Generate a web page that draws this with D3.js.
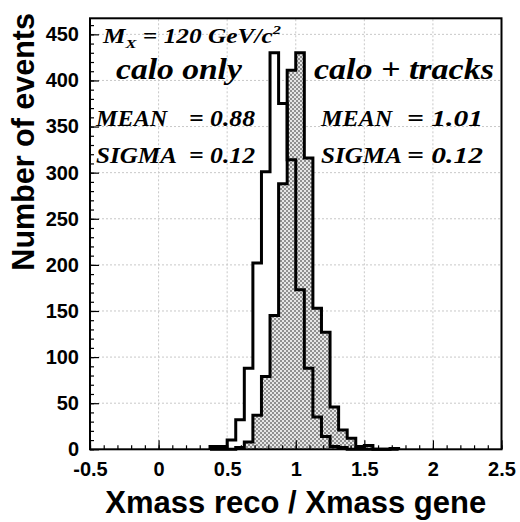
<!DOCTYPE html>
<html><head><meta charset="utf-8">
<script src="https://cdn.jsdelivr.net/npm/d3@7"></script>
<style>html,body{margin:0;padding:0;background:#fff;} svg{display:block}</style>
</head><body><svg id="c" width="520" height="522"></svg>
<script>
// ---- data ----
const binWidth = 0.0625;
const binLow = [0.375, 0.4375, 0.5, 0.5625, 0.625, 0.6875, 0.75, 0.8125, 0.875, 0.9375, 1.0, 1.0625,
                1.125, 1.1875, 1.25, 1.3125, 1.375, 1.4375, 1.5, 1.5625, 1.625, 1.6875];
const caloOnly   = [3, 3, 10, 32, 88, 202, 301, 430, 375, 314, 173, 88, 35, 14, 3, 2, 0, 0, 0, 0, 0, 0];
const caloTracks = [0, 0, 0, 2, 8, 37, 79, 145, 288, 411, 430, 316, 153, 127, 46, 21, 12, 3, 4, 0, 0, 1];
const xTicks = [-0.5, 0, 0.5, 1, 1.5, 2, 2.5];
const xTickLabels = ["-0.5", "0", "0.5", "1", "1.5", "2", "2.5"];
const yTicks = [0, 50, 100, 150, 200, 250, 300, 350, 400, 450];
const yTickLabels = ["0", "50", "100", "150", "200", "250", "300", "350", "400", "450"];
const xGrid = [0, 0.5, 1, 1.5, 2];
const yGrid = [50, 100, 150, 200, 250, 300, 350, 400, 450];
const xTitle = "Xmass reco / Xmass gene";
const yTitle = "Number of events";
const statsLeft = {mean: "0.88", sigma: "0.12"};
const statsRight = {mean: "1.01", sigma: "0.12"};

// ---- drawing ----
const svg = d3.select("#c");
const x = d3.scaleLinear().domain([-0.5, 2.5]).range([90, 501.5]);
const y = d3.scaleLinear().domain([0, 467.4]).range([449.3, 18.3]);
const sans = "'Liberation Sans', Arial, Helvetica, sans-serif";
const serif = "'Liberation Serif', 'Times New Roman', serif";

const defs = svg.append("defs");
const pat = defs.append("pattern").attr("id", "hatch").attr("width", 4).attr("height", 4)
  .attr("patternUnits", "userSpaceOnUse");
pat.append("rect").attr("width", 4).attr("height", 4).attr("fill", "#e6e6e6");
pat.append("rect").attr("x", 0).attr("y", 0).attr("width", 2).attr("height", 2).attr("fill", "#909090");
pat.append("rect").attr("x", 2).attr("y", 2).attr("width", 2).attr("height", 2).attr("fill", "#909090");

// grid
svg.append("g").selectAll("line").data(yGrid).join("line")
  .attr("x1", x(-0.5)).attr("x2", x(2.5)).attr("y1", d => y(d)).attr("y2", d => y(d))
  .attr("stroke", "#c8c8c8").attr("stroke-width", 1).attr("stroke-dasharray", "2,2");
svg.append("g").selectAll("line").data(xGrid).join("line")
  .attr("y1", y(0)).attr("y2", y(467.4)).attr("x1", d => x(d)).attr("x2", d => x(d))
  .attr("stroke", "#c8c8c8").attr("stroke-width", 1).attr("stroke-dasharray", "2,2");

function pts(counts) {
  const p = [[binLow[0], 0]];
  counts.forEach((c, i) => p.push([binLow[i], c]));
  p.push([binLow[binLow.length - 1] + binWidth, 0]);
  return p;
}
const line = d3.line().x(d => x(d[0])).y(d => y(d[1])).curve(d3.curveStepAfter);
const area = d3.area().x(d => x(d[0])).y0(y(0)).y1(d => y(d[1])).curve(d3.curveStepAfter);

svg.append("path").attr("d", area(pts(caloOnly))).attr("fill", "#fff");
svg.append("path").attr("d", area(pts(caloTracks))).attr("fill", "url(#hatch)");
svg.append("path").attr("d", line(pts(caloTracks))).attr("fill", "none").attr("stroke", "#000")
  .attr("stroke-width", 3).attr("stroke-linejoin", "miter");
svg.append("path").attr("d", line(pts(caloOnly))).attr("fill", "none").attr("stroke", "#000")
  .attr("stroke-width", 3).attr("stroke-linejoin", "miter");

// frame
svg.append("rect").attr("x", x(-0.5)).attr("y", y(467.4))
  .attr("width", x(2.5) - x(-0.5)).attr("height", y(0) - y(467.4))
  .attr("fill", "none").attr("stroke", "#000").attr("stroke-width", 2);

// axes
function styleAxis(g) {
  g.select(".domain").remove();
  g.selectAll("line").attr("stroke", "#000").attr("stroke-width", 1.2);
  g.selectAll("text").attr("font-family", sans).attr("font-weight", "bold")
    .attr("font-size", 20).attr("fill", "#000");
}
svg.append("g").attr("transform", `translate(0,${y(0)})`)
  .call(d3.axisBottom(x).tickValues(d3.range(-0.5, 2.51, 0.1)).tickSize(-4).tickFormat(""))
  .call(styleAxis);
svg.append("g").attr("transform", `translate(0,${y(0)})`)
  .call(d3.axisBottom(x).tickValues(xTicks).tickSize(-9).tickPadding(13)
    .tickFormat((d, i) => xTickLabels[i]))
  .call(styleAxis);
svg.append("g").attr("transform", `translate(${x(-0.5)},0)`)
  .call(d3.axisLeft(y).tickValues(d3.range(0, 461, 10)).tickSize(-4).tickFormat(""))
  .call(styleAxis);
svg.append("g").attr("transform", `translate(${x(-0.5)},0)`)
  .call(d3.axisLeft(y).tickValues(yTicks).tickSize(-9).tickPadding(11)
    .tickFormat((d, i) => yTickLabels[i]))
  .call(styleAxis);

// axis titles
svg.append("text").attr("x", (x(-0.5) + x(2.5)) / 2).attr("y", 512.5)
  .attr("text-anchor", "middle").attr("font-family", sans).attr("font-weight", "bold")
  .attr("font-size", 31).text(xTitle);
svg.append("text").attr("transform", "translate(33.5,13) rotate(-90)")
  .attr("text-anchor", "end").attr("font-family", sans).attr("font-weight", "bold")
  .attr("font-size", 30.5).text(yTitle);

// annotations (serif bold italic, fitted to measured widths)
function fitted(x0, y0, targetW, size, build) {
  const g = svg.append("g");
  const t = g.append("text").attr("font-family", serif).attr("font-weight", "bold")
    .attr("font-style", "italic").attr("font-size", size).attr("fill", "#000");
  build(t);
  const w = t.node().getBBox().width;
  g.attr("transform", `translate(${x0},${y0}) scale(${targetW / w},1)`);
}
fitted(103, 43, 180, 20, t => {
  t.append("tspan").text("M");
  t.append("tspan").attr("font-size", 13).attr("dy", 5).text("X");
  t.append("tspan").attr("dy", -5).text(" = 120 GeV/c");
  t.append("tspan").attr("font-size", 13).attr("dy", -9).text("2");
});
fitted(116, 79, 126, 29, t => t.text("calo only"));
fitted(314, 79, 180, 29, t => t.text("calo + tracks"));
fitted(96, 126, 74, 24, t => t.text("MEAN"));
fitted(189, 126, 66, 24, t => t.text("= " + statsLeft.mean));
fitted(96, 163, 81, 24, t => t.text("SIGMA"));
fitted(189, 163, 66, 24, t => t.text("= " + statsLeft.sigma));
fitted(321, 126, 74, 24, t => t.text("MEAN"));
fitted(407, 126, 76, 24, t => t.text("= " + statsRight.mean));
fitted(321, 163, 81, 24, t => t.text("SIGMA"));
fitted(407, 163, 76, 24, t => t.text("= " + statsRight.sigma));
</script></body></html>
